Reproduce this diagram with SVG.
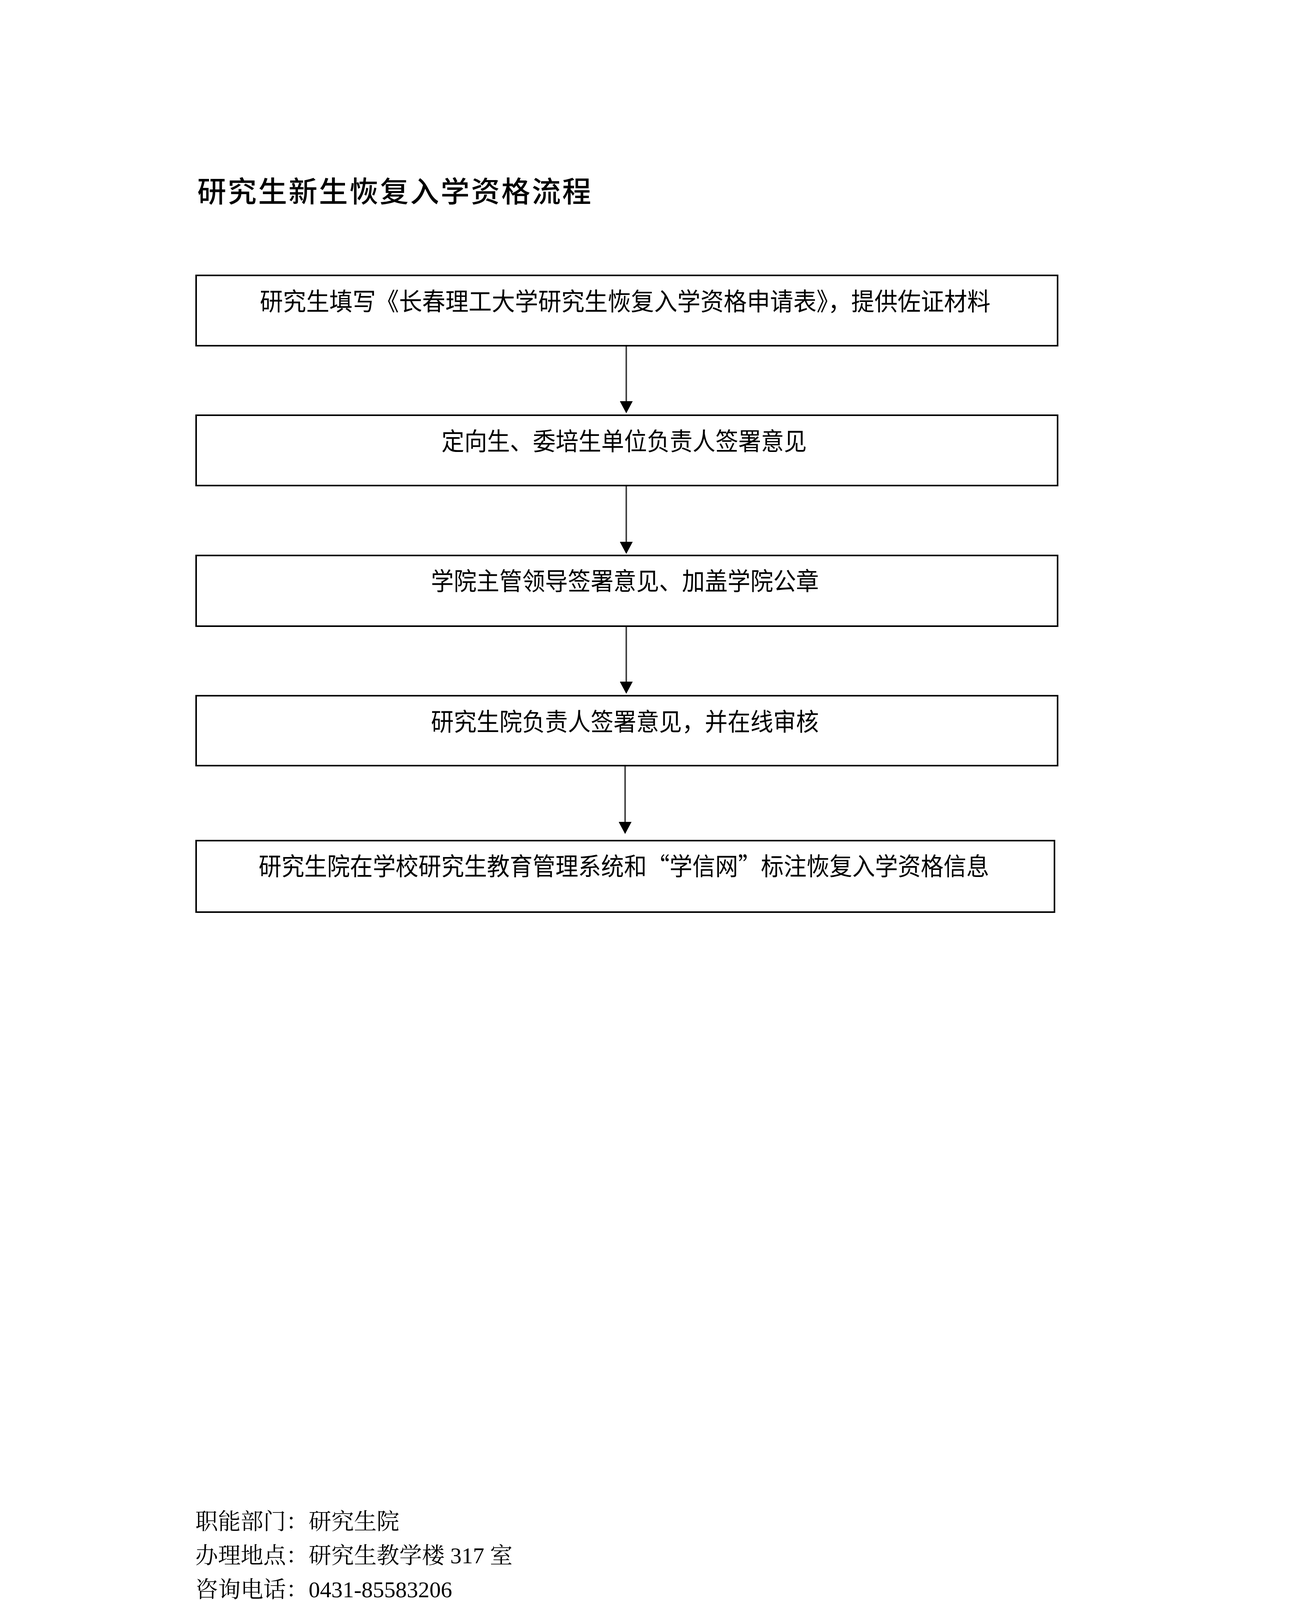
<svg xmlns="http://www.w3.org/2000/svg" width="3307" height="4677" viewBox="0 0 3307 4677">
  <style>
    .bg { fill: #ffffff; }
    .box { fill: #ffffff; stroke: #000000; stroke-width: 4; }
    .label { font-family: "Noto Sans CJK SC", "Liberation Sans", sans-serif; font-size: 63px; fill: #000000; }
    .title { font-family: "Noto Sans CJK SC", "Liberation Sans", sans-serif; font-size: 74px; font-weight: 500; fill: #000000; }
    .foot { font-family: "Liberation Serif", "Noto Serif CJK SC", "Noto Sans CJK SC", serif; font-size: 58px; fill: #000000; }
    .conn { stroke: #444444; stroke-width: 4; fill: none; }
  </style>
  <defs>
    <marker id="arrow" markerUnits="userSpaceOnUse" viewBox="0 0 31 33" markerWidth="31" markerHeight="33" refX="3" refY="16.5" orient="auto">
      <path d="M0,0 L31,16.5 L0,33 Z" fill="#000000"/>
    </marker>
  </defs>
  <rect class="bg" x="0" y="0" width="3307" height="4677"/>

  <g id="title">
    <text class="title" x="505" y="517" textLength="1008" lengthAdjust="spacing">研究生新生恢复入学资格流程</text>
  </g>

  <g id="connectors">
    <line class="conn" x1="1603" y1="887" x2="1603" y2="1030" marker-end="url(#arrow)"/>
    <line class="conn" x1="1603" y1="1245" x2="1603" y2="1390" marker-end="url(#arrow)"/>
    <line class="conn" x1="1603" y1="1605" x2="1603" y2="1748" marker-end="url(#arrow)"/>
    <line class="conn" x1="1600" y1="1962" x2="1600" y2="2107" marker-end="url(#arrow)"/>
  </g>

  <g id="node1">
    <rect class="box" x="502" y="705" width="2205" height="180"/>
    <text class="label" x="665" y="794" textLength="1870" lengthAdjust="spacingAndGlyphs">研究生填写《长春理工大学研究生恢复入学资格申请表》，提供佐证材料</text>
  </g>
  <g id="node2">
    <rect class="box" x="502" y="1063" width="2205" height="180"/>
    <text class="label" x="1130" y="1152" textLength="935" lengthAdjust="spacingAndGlyphs">定向生、委培生单位负责人签署意见</text>
  </g>
  <g id="node3">
    <rect class="box" x="502" y="1422" width="2205" height="181"/>
    <text class="label" x="1103" y="1510" textLength="993" lengthAdjust="spacingAndGlyphs">学院主管领导签署意见、加盖学院公章</text>
  </g>
  <g id="node4">
    <rect class="box" x="502" y="1781" width="2205" height="179"/>
    <text class="label" x="1103" y="1870" textLength="993" lengthAdjust="spacingAndGlyphs">研究生院负责人签署意见，并在线审核</text>
  </g>
  <g id="node5">
    <rect class="box" x="502" y="2152" width="2197" height="183"/>
    <text class="label" x="662" y="2240" textLength="1870" lengthAdjust="spacingAndGlyphs">研究生院在学校研究生教育管理系统和“学信网”标注恢复入学资格信息</text>
  </g>

  <g id="footer">
    <text class="foot" x="500" y="3915">职能部门：研究生院</text>
    <text class="foot" x="500" y="4002">办理地点：研究生教学楼 317 室</text>
    <text class="foot" x="500" y="4089">咨询电话：0431-85583206</text>
  </g>
</svg>
